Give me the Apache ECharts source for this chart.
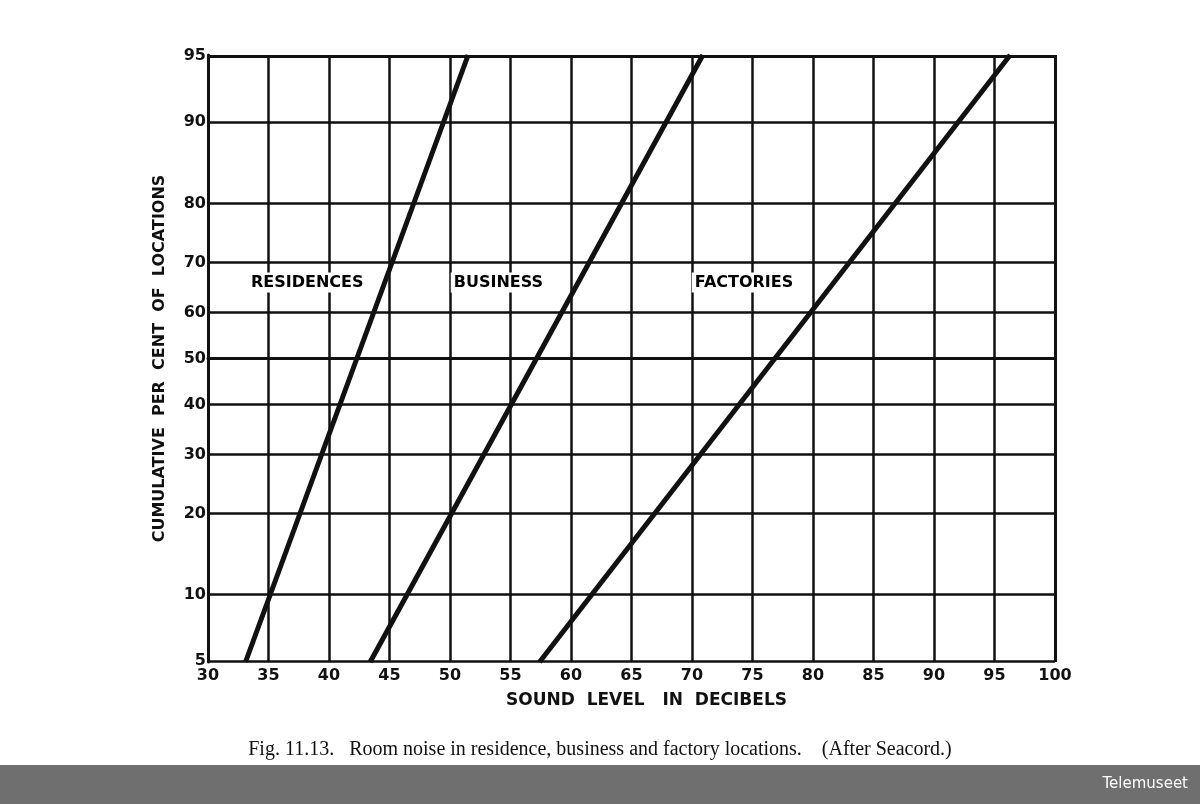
<!DOCTYPE html>
<html>
<head>
<meta charset="utf-8">
<script src="https://cdn.jsdelivr.net/npm/echarts@6/dist/echarts.min.js"></script>
<style>body{margin:0;background:#fff}</style>
</head>
<body>
<div id="main" style="width:1200px;height:804px;"></div>
<script>
// percent levels on the probability axis
var pctTicks = [5, 10, 20, 30, 40, 50, 60, 70, 80, 90, 95];
// lines: [dB, percent] endpoints
var residences = [[33.1, 5], [51.5, 95]];
var business = [[43.4, 5], [70.9, 95]];
var factories = [[57.4, 5], [96.3, 95]];
var labels = [['RESIDENCES', 38.2, 66], ['BUSINESS', 54, 66], ['FACTORIES', 74.3, 66]];

// normal probability scale (inverse normal CDF)
function probit(p) {
  p = p / 100;
  var a = [-39.6968302866538, 220.946098424521, -275.928510446969, 138.357751867269, -30.6647980661472, 2.50662827745924];
  var b = [-54.4760987982241, 161.585836858041, -155.698979859887, 66.8013118877197, -13.2806815528857];
  var c = [-0.00778489400243029, -0.322396458041136, -2.40075827716184, -2.54973253934373, 4.37466414146497, 2.93816398269878];
  var d = [0.00778469570904146, 0.32246712907004, 2.445134137143, 3.75440866190742];
  var q, r;
  if (p < 0.02425) {
    q = Math.sqrt(-2 * Math.log(p));
    return (((((c[0]*q+c[1])*q+c[2])*q+c[3])*q+c[4])*q+c[5]) / ((((d[0]*q+d[1])*q+d[2])*q+d[3])*q+1);
  } else if (p > 1 - 0.02425) {
    q = Math.sqrt(-2 * Math.log(1 - p));
    return -(((((c[0]*q+c[1])*q+c[2])*q+c[3])*q+c[4])*q+c[5]) / ((((d[0]*q+d[1])*q+d[2])*q+d[3])*q+1);
  }
  q = p - 0.5; r = q * q;
  return (((((a[0]*r+a[1])*r+a[2])*r+a[3])*r+a[4])*r+a[5])*q / (((((b[0]*r+b[1])*r+b[2])*r+b[3])*r+b[4])*r+1);
}
function conv(arr) { return arr.map(function (d) { return [d[0], probit(d[1])]; }); }

var font = 'DejaVu Sans';
var chart = echarts.init(document.getElementById('main'));
function line(name, data) {
  return { name: name, type: 'line', data: conv(data), symbol: 'none',
    lineStyle: { color: '#111', width: 5 }, z: 5 };
}
var option = {
  backgroundColor: '#fff',
  animation: false,
  grid: { left: 208, right: 145, top: 55, bottom: 142 },
  xAxis: {
    type: 'value', min: 30, max: 100, interval: 5,
    name: 'SOUND  LEVEL   IN  DECIBELS', nameLocation: 'middle', nameGap: 30,
    nameTextStyle: { fontFamily: font, fontWeight: 'bold', fontSize: 17, color: '#111', padding: [0, 0, 0, 30] },
    axisLine: { lineStyle: { color: '#111', width: 3 } },
    axisTick: { show: false },
    axisLabel: { fontFamily: font, fontWeight: 'bold', fontSize: 16, color: '#111', margin: 6 },
    splitLine: { show: true, lineStyle: { color: '#111', width: 2.5 } }
  },
  yAxis: {
    type: 'value', min: probit(5), max: probit(95),
    name: 'CUMULATIVE  PER  CENT  OF  LOCATIONS', nameLocation: 'middle', nameGap: 40,
    nameTextStyle: { fontFamily: font, fontWeight: 'bold', fontSize: 16, color: '#111' },
    axisLine: { show: true, lineStyle: { color: '#111', width: 3 } },
    axisTick: { show: false }, axisLabel: { show: false }, splitLine: { show: false }
  },
  series: [
    {
      type: 'line', data: [], symbol: 'none', z: 3,
      markLine: {
        silent: true, symbol: 'none',
        lineStyle: { color: '#111', width: 2.5, type: 'solid' },
        label: { position: 'start', distance: 2, fontFamily: font, fontWeight: 'bold', fontSize: 16, color: '#111',
          formatter: function (p) { return p.data.pct; } },
        data: pctTicks.map(function (p) { return { yAxis: probit(p), pct: String(p) }; })
      }
    },
    {
      type: 'line', data: [], symbol: 'none', z: 3,
      markLine: {
        silent: true, symbol: 'none', label: { show: false },
        lineStyle: { color: '#111', width: 3, type: 'solid' },
        data: [{ xAxis: 100 }, { yAxis: probit(95) }]
      }
    },
    line('Residences', residences),
    line('Business', business),
    line('Factories', factories),
    {
      type: 'scatter', symbolSize: 1, z: 6, itemStyle: { opacity: 0 },
      data: labels.map(function (l) { return { value: [l[1], probit(l[2])], name: l[0] }; }),
      label: { show: true, position: 'inside', formatter: '{b}', fontFamily: font, fontWeight: 'bold', fontSize: 16, color: '#000',
        opacity: 1, backgroundColor: '#fff', padding: [2, 3] }
    }
  ],
  graphic: [
    { type: 'text', left: 'center', top: 740, style: { text: 'Fig. 11.13.   Room noise in residence, business and factory locations.    (After Seacord.)',
      font: '20px "Liberation Serif"', fill: '#111' } },
    { type: 'rect', shape: { x: 0, y: 765, width: 1200, height: 39 }, style: { fill: '#6f6f6f' } },
    { type: 'text', right: 12, top: 777, style: { text: 'Telemuseet', font: '15px "DejaVu Sans"', fill: '#fff' } }
  ]
};
chart.setOption(option);
</script>
</body>
</html>
